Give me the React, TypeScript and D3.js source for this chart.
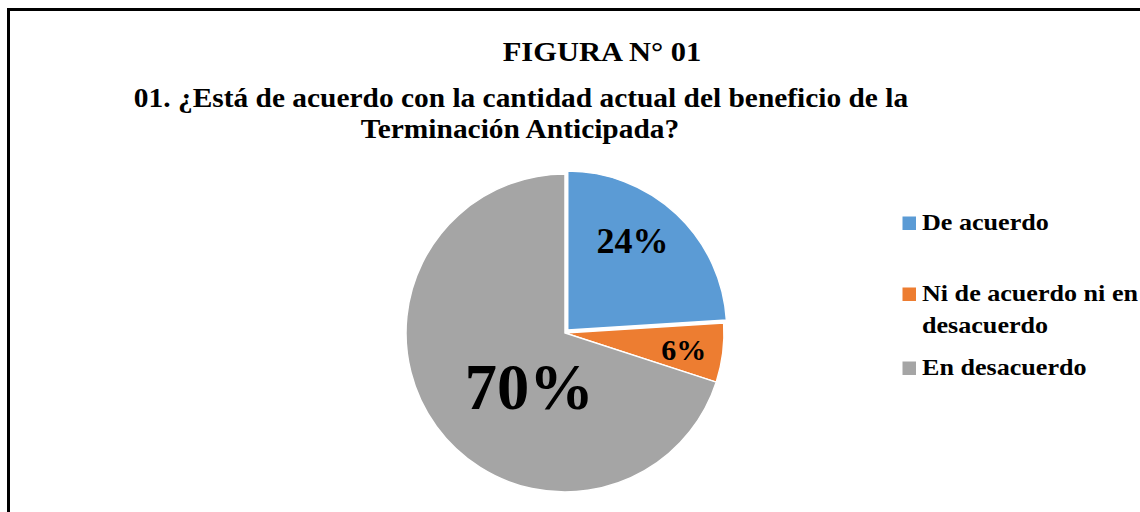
import React from "react";
import * as d3 from "d3";

const categories = ["De acuerdo", "Ni de acuerdo ni en desacuerdo", "En desacuerdo"];
const values = [24, 6, 70];
const labels = ["24%", "6%", "70%"];
const legendLines = [["De acuerdo"], ["Ni de acuerdo ni en", "desacuerdo"], ["En desacuerdo"]];
const colors = ["#5B9BD5", "#ED7D31", "#A5A5A5"];

const title1 = "FIGURA N° 01";
const title2a = "01. ¿Está de acuerdo con la cantidad actual del beneficio de la";
const title2b = "Terminación Anticipada?";

const W = 1140;
const H = 512;
const cx = 565;
const cy = 333;
const R = 159;
// label placement (style): angle (deg from 12 o'clock) and radius, font size
const labelStyle = [
  { a: 36, r: 115, fs: 36 },
  { a: 98, r: 120, fs: 30 },
  { a: 214, r: 64, fs: 64.5 },
];
const explode = [4, 0, 0];
const fontStyle = { fontFamily: "Liberation Serif", fontWeight: "bold" as const };

export default function App() {
  const pie = d3.pie<number>().sort(null).value((d) => d).startAngle(0).endAngle(2 * Math.PI);
  const arcs = pie(values);
  const arc = d3.arc<d3.PieArcDatum<number>>().innerRadius(0).outerRadius(R);
  const sxTitle = 1.13;
  const sxSub = 1.11;
  const sxLeg = 1.16;

  return (
    <svg width={W} height={H} style={{ position: "fixed", left: 0, top: 0, background: "#fff" }}>
      <rect x={0} y={0} width={W} height={H} fill="#fff" />
      <rect x={8.5} y={9.5} width={1300} height={700} fill="none" stroke="#000" strokeWidth={3} />

      <g transform={`translate(602,61) scale(${sxTitle},1)`}>
        <text textAnchor="middle" fontSize={27} style={fontStyle}>{title1}</text>
      </g>
      <g transform={`translate(521,107) scale(${sxSub},1)`}>
        <text textAnchor="middle" fontSize={26.5} style={fontStyle}>{title2a}</text>
      </g>
      <g transform={`translate(520,138) scale(${sxSub},1)`}>
        <text textAnchor="middle" fontSize={26.5} style={fontStyle}>{title2b}</text>
      </g>

      <g transform={`translate(${cx},${cy})`}>
        {arcs.map((a, i) => {
          const mid = (a.startAngle + a.endAngle) / 2;
          const dx = Math.sin(mid) * explode[i];
          const dy = -Math.cos(mid) * explode[i];
          return (
            <path
              key={i}
              d={arc(a) || ""}
              fill={colors[i]}
              stroke="#fff"
              strokeWidth={1.5}
              transform={`translate(${dx},${dy})`}
            />
          );
        })}
        {arcs.map((a, i) => {
          const ls = labelStyle[i];
          const t = (ls.a * Math.PI) / 180;
          const x = Math.sin(t) * ls.r;
          const y = -Math.cos(t) * ls.r;
          return (
            <text key={i} x={x} y={y} dy="0.35em" textAnchor="middle" fontSize={ls.fs} fill="#000" style={fontStyle}>
              {labels[i]}
            </text>
          );
        })}
      </g>

      {categories.map((c, i) => {
        const ys = [230, 301, 375];
        const y = ys[i];
        return (
          <g key={c}>
            <rect x={902.5} y={y - 13.5} width={13.5} height={13.5} fill={colors[i]} />
            {legendLines[i].map((ln, j) => (
              <g key={j} transform={`translate(922,${y + j * 32}) scale(${sxLeg},1)`}>
                <text fontSize={22.5} style={fontStyle}>{ln}</text>
              </g>
            ))}
          </g>
        );
      })}
    </svg>
  );
}
